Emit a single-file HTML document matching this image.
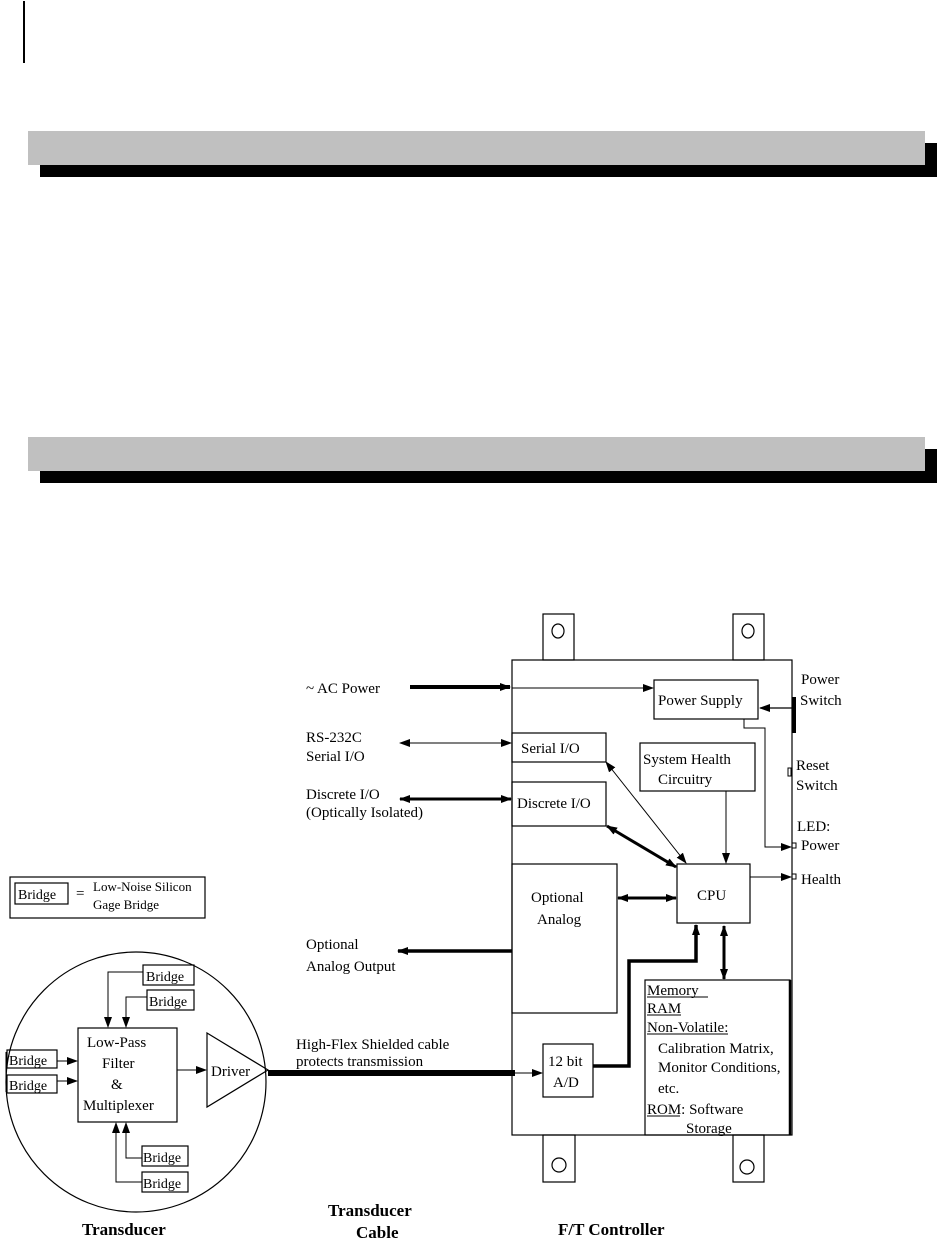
<!DOCTYPE html>
<html><head><meta charset="utf-8"><style>
html,body{margin:0;padding:0;background:#fff;width:937px;height:1252px;overflow:hidden}
svg{display:block}
text{font-family:"Liberation Serif",serif;font-size:15px;fill:#000}
.b{font-weight:bold;font-size:17px}
</style></head><body>
<svg width="937" height="1252" viewBox="0 0 937 1252" xmlns="http://www.w3.org/2000/svg">
<defs>
<marker id="a" markerWidth="11" markerHeight="8" refX="10" refY="4" orient="auto" markerUnits="userSpaceOnUse"><path d="M0,0 L11,4 L0,8 z"/></marker>
<marker id="as" markerWidth="11" markerHeight="8" refX="1" refY="4" orient="auto" markerUnits="userSpaceOnUse"><path d="M11,0 L0,4 L11,8 z"/></marker>
</defs>
<line x1="24" y1="1" x2="24" y2="63" stroke="#000" stroke-width="2"/>
<rect x="40" y="143" width="897" height="34" fill="#000"/>
<rect x="28" y="131" width="897" height="34" fill="#c0c0c0"/>
<rect x="40" y="449" width="897" height="34" fill="#000"/>
<rect x="28" y="437" width="897" height="34" fill="#c0c0c0"/>
<g fill="none" stroke="#000" stroke-width="1.2">
<rect x="543" y="614" width="31" height="46"/><ellipse cx="558" cy="631" rx="6" ry="7"/>
<rect x="733" y="614" width="31" height="46"/><ellipse cx="748" cy="631" rx="6" ry="7"/>
<rect x="543" y="1135" width="32" height="47"/><ellipse cx="559" cy="1165" rx="7" ry="7"/>
<rect x="733" y="1135" width="31" height="47"/><ellipse cx="747" cy="1167" rx="7" ry="7"/>
<rect x="512" y="660" width="280" height="475"/>
<rect x="654" y="680" width="104" height="39"/>
<rect x="512" y="733" width="94" height="29"/>
<rect x="512" y="782" width="94" height="44"/>
<rect x="640" y="743" width="115" height="48"/>
<rect x="677" y="864" width="73" height="59"/>
<rect x="512" y="864" width="105" height="149"/>
<rect x="645" y="980" width="145" height="155"/>
<rect x="543" y="1044" width="50" height="53"/>
<circle cx="136" cy="1082" r="130"/>
<rect x="78" y="1028" width="99" height="94"/>
<path d="M207,1033 L268,1070 L207,1107 z"/>
<rect x="143" y="965" width="51" height="20"/>
<rect x="147" y="990" width="47" height="20"/>
<rect x="7" y="1050" width="50" height="18"/>
<rect x="7" y="1075" width="50" height="18"/>
<rect x="142" y="1146" width="46" height="20"/>
<rect x="142" y="1172" width="46" height="20"/>
<rect x="10" y="877" width="195" height="41"/>
<rect x="15" y="883" width="53" height="21"/>
</g>
<g stroke="#000" stroke-width="1">
<line x1="647" y1="997" x2="708" y2="997"/><line x1="647" y1="1015" x2="681" y2="1015"/>
<line x1="647" y1="1034" x2="728" y2="1034"/><line x1="647" y1="1116" x2="680" y2="1116"/>
</g>
<line x1="790" y1="980" x2="790" y2="1135" stroke="#000" stroke-width="2.5"/>
<rect x="792" y="697" width="4" height="36" fill="#000"/>
<rect x="788" y="768" width="3" height="8" fill="none" stroke="#000"/>
<rect x="792" y="843" width="4" height="5" fill="none" stroke="#000"/>
<rect x="792" y="874" width="4" height="5" fill="none" stroke="#000"/>
<g stroke="#000" fill="none">
<line x1="410" y1="687" x2="510" y2="687" stroke-width="4" marker-end="url(#a)"/>
<line x1="512" y1="688" x2="653" y2="688" stroke-width="1" marker-end="url(#a)"/>
<line x1="792" y1="708" x2="760" y2="708" stroke-width="1.2" marker-end="url(#a)"/>
<polyline points="744,719 744,728 765,728 765,847 791,847" stroke-width="1" marker-end="url(#a)"/>
<line x1="750" y1="877" x2="791" y2="877" stroke-width="1" marker-end="url(#a)"/>
<line x1="726" y1="791" x2="726" y2="863" stroke-width="1" marker-end="url(#a)"/>
<line x1="400" y1="743" x2="511" y2="743" stroke-width="1" marker-start="url(#as)" marker-end="url(#a)"/>
<line x1="400" y1="799" x2="511" y2="799" stroke-width="3" marker-start="url(#as)" marker-end="url(#a)"/>
<line x1="606" y1="762" x2="686" y2="863" stroke-width="1" marker-start="url(#as)" marker-end="url(#a)"/>
<line x1="607" y1="826" x2="676" y2="867" stroke-width="3" marker-start="url(#as)" marker-end="url(#a)"/>
<line x1="618" y1="898" x2="676" y2="898" stroke-width="3" marker-start="url(#as)" marker-end="url(#a)"/>
<line x1="724" y1="926" x2="724" y2="979" stroke-width="3" marker-start="url(#as)" marker-end="url(#a)"/>
<line x1="512" y1="951" x2="398" y2="951" stroke-width="3.5" marker-end="url(#a)"/>
<polyline points="593,1066 629,1066 629,961 696,961 696,925" stroke-width="3.5" marker-end="url(#a)"/>
<line x1="268" y1="1073" x2="515" y2="1073" stroke-width="6"/>
<line x1="512" y1="1073" x2="542" y2="1073" stroke-width="1" marker-end="url(#a)"/>
<line x1="177" y1="1070" x2="206" y2="1070" stroke-width="1" marker-end="url(#a)"/>
<line x1="57" y1="1061" x2="77" y2="1061" stroke-width="1" marker-end="url(#a)"/>
<line x1="57" y1="1081" x2="77" y2="1081" stroke-width="1" marker-end="url(#a)"/>
<polyline points="143,972 108,972 108,1027" stroke-width="1" marker-end="url(#a)"/>
<polyline points="147,997 126,997 126,1027" stroke-width="1" marker-end="url(#a)"/>
<polyline points="142,1158 126,1158 126,1123" stroke-width="1" marker-end="url(#a)"/>
<polyline points="142,1182 116,1182 116,1123" stroke-width="1" marker-end="url(#a)"/>
<line x1="6" y1="1052" x2="6" y2="1092" stroke-width="1"/>
</g>
<text x="306" y="693">~ AC Power</text>
<text x="306" y="742">RS-232C</text>
<text x="306" y="761">Serial I/O</text>
<text x="306" y="799">Discrete I/O</text>
<text x="306" y="817">(Optically Isolated)</text>
<text x="306" y="949">Optional</text>
<text x="306" y="971">Analog Output</text>
<text x="296" y="1049">High-Flex Shielded cable</text>
<text x="296" y="1066">protects transmission</text>
<text x="658" y="705">Power Supply</text>
<text x="521" y="753">Serial I/O</text>
<text x="517" y="808">Discrete I/O</text>
<text x="643" y="764">System Health</text>
<text x="658" y="784">Circuitry</text>
<text x="697" y="900">CPU</text>
<text x="531" y="902">Optional</text>
<text x="537" y="924">Analog</text>
<text x="548" y="1066">12 bit</text>
<text x="553" y="1087">A/D</text>
<text x="647" y="995">Memory</text>
<text x="647" y="1013">RAM</text>
<text x="647" y="1032">Non-Volatile:</text>
<text x="658" y="1053">Calibration Matrix,</text>
<text x="658" y="1072">Monitor Conditions,</text>
<text x="658" y="1093">etc.</text>
<text x="647" y="1114">ROM: Software</text>
<text x="686" y="1133">Storage</text>
<text x="801" y="684">Power</text>
<text x="800" y="705">Switch</text>
<text x="796" y="770">Reset</text>
<text x="796" y="790">Switch</text>
<text x="797" y="831">LED:</text>
<text x="801" y="850">Power</text>
<text x="801" y="884">Health</text>
<text x="87" y="1047">Low-Pass</text>
<text x="102" y="1068">Filter</text>
<text x="111" y="1089">&amp;</text>
<text x="83" y="1110">Multiplexer</text>
<text x="211" y="1076">Driver</text>
<text x="18" y="899" style="font-size:14px">Bridge</text>
<text x="76" y="898">=</text>
<text x="93" y="891" style="font-size:13px">Low-Noise Silicon</text>
<text x="93" y="909" style="font-size:13px">Gage Bridge</text>
<text x="146" y="981" style="font-size:14px">Bridge</text>
<text x="149" y="1006" style="font-size:14px">Bridge</text>
<text x="9" y="1065" style="font-size:14px">Bridge</text>
<text x="9" y="1090" style="font-size:14px">Bridge</text>
<text x="143" y="1162" style="font-size:14px">Bridge</text>
<text x="143" y="1188" style="font-size:14px">Bridge</text>
<text class="b" x="82" y="1235">Transducer</text>
<text class="b" x="328" y="1216">Transducer</text>
<text class="b" x="356" y="1238">Cable</text>
<text class="b" x="558" y="1235">F/T Controller</text>
</svg>
</body></html>
